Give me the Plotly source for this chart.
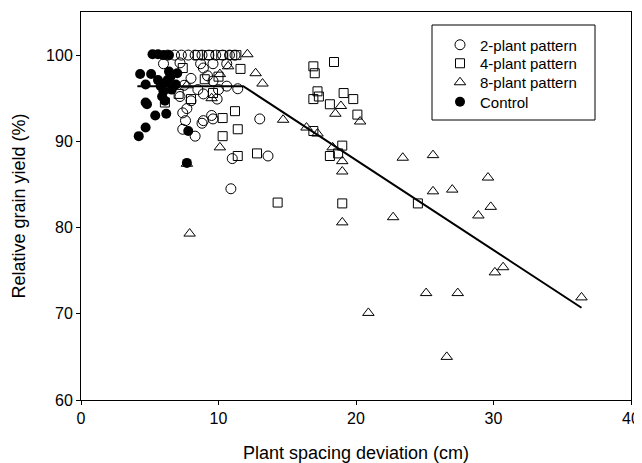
import plotly.graph_objects as go

# ---- data ----
two_x = [6.3, 6.8, 7.3, 7.8, 8.3, 8.8, 9.3, 9.8, 10.3, 10.8, 11.2,
         6.0, 7.2, 8.7, 9.6, 10.6, 8.9, 8.0, 9.2, 10.6, 11.4, 7.2, 8.0, 8.9, 9.9,
         7.4, 7.7, 7.6, 8.3, 8.9, 9.5, 9.6, 11.0, 10.9, 13.0, 13.6, 7.4, 8.8,
         9.6, 10.0, 7.5, 8.5]
two_y = [100, 100, 100, 100, 100, 100, 100, 100, 100, 100, 100,
         99.0, 99.1, 99.0, 99.0, 99.0, 98.5, 97.3, 97.6, 96.4, 96.1, 95.2, 94.7, 95.5, 94.9,
         93.3, 93.8, 92.4, 90.6, 92.4, 93.0, 92.6, 88.0, 84.5, 92.6, 88.3, 91.4, 92.1,
         97.0, 96.0, 96.5, 96.0]

four_x = [8.5, 9.3, 10.2, 11.0, 11.3,
          6.1, 7.1, 8.0, 9.6, 10.3, 11.2, 11.4, 10.3, 11.4, 12.8, 11.6, 7.4, 9.0, 10.0,
          16.9, 18.4, 17.0, 17.2, 17.3, 16.9, 18.1, 19.1, 19.8, 20.1, 16.9, 19.0, 18.1,
          18.7, 14.3, 19.0, 24.5]
four_y = [100, 100, 100, 100, 100,
          94.5, 95.5, 94.9, 95.6, 92.7, 93.5, 91.4, 90.6, 88.3, 88.6, 98.4, 98.5, 97.2, 97.5,
          98.7, 99.2, 97.9, 95.8, 95.2, 94.9, 94.3, 95.6, 94.9, 93.1, 91.2, 89.5, 88.3,
          88.6, 82.9, 82.8, 82.8]

eight_x = [12.1, 12.7, 13.2, 10.1, 10.7, 7.9, 10.1, 7.7, 7.7, 9.5,
           18.9, 18.5, 20.3, 14.7, 16.4, 17.2, 18.3, 19.0, 19.0, 23.4, 25.6, 25.6, 27.0,
           22.7, 19.0, 29.6, 29.8, 28.9, 30.1, 30.7, 25.1, 27.4, 36.4, 26.6, 20.9]
eight_y = [100.1, 97.9, 96.7, 97.8, 98.7, 79.3, 89.3, 87.4, 96.5, 95.0,
           94.1, 93.2, 92.3, 92.5, 91.6, 90.9, 89.3, 87.7, 86.5, 88.1, 88.4, 84.2, 84.4,
           81.2, 80.6, 85.8, 82.4, 81.4, 74.8, 75.4, 72.4, 72.4, 71.9, 65.0, 70.1]

ctrl_x = [5.2, 5.6, 6.0, 6.4, 4.3, 5.1, 4.7, 4.7, 4.8, 5.4, 6.2, 4.7, 4.2, 7.8, 7.7,
          5.8, 6.0, 6.3, 5.9, 6.5, 5.6, 6.1, 6.9, 6.4, 7.0, 6.6, 6.2]
ctrl_y = [100.1, 100.1, 100.0, 100.0, 97.8, 97.8, 96.6, 94.5, 94.3, 93.0, 93.2, 91.6, 90.6,
          91.2, 87.5, 96.4, 95.8, 97.1, 95.2, 97.5, 97.1, 94.7, 96.6, 98.1, 97.9, 96.0, 96.8]

fit_x = [4.1, 11.8, 36.4]
fit_y = [96.4, 96.4, 70.7]

x_ticks = [0, 10, 20, 30, 40]
y_ticks = [60, 70, 80, 90, 100]

FONT = "Liberation Sans, Arial, sans-serif"

fig = go.Figure()

fig.add_trace(go.Scatter(x=fit_x, y=fit_y, mode="lines",
                         line=dict(color="black", width=2), showlegend=False,
                         hoverinfo="skip"))

mk_line = dict(color="black", width=1)
fig.add_trace(go.Scatter(x=two_x, y=two_y, mode="markers", name="2-plant pattern",
                         legend="legend",
                         marker=dict(symbol="circle-open", size=10, color="black", line=mk_line)))
fig.add_trace(go.Scatter(x=four_x, y=four_y, mode="markers", name="4-plant pattern",
                         legend="legend2",
                         marker=dict(symbol="square-open", size=9, color="black", line=mk_line)))
fig.add_trace(go.Scatter(x=eight_x, y=eight_y, mode="markers", name="8-plant pattern",
                         legend="legend3",
                         marker=dict(symbol="triangle-up-open", size=10, color="black", line=mk_line)))
fig.add_trace(go.Scatter(x=ctrl_x, y=ctrl_y, mode="markers", name="Control",
                         legend="legend4",
                         marker=dict(symbol="circle", size=10, color="black")))

XR = [0, 40]
YR = [60, 105]
common = dict(showgrid=False, zeroline=False, automargin=False)

# page has an 8px body margin: figure sits at (8, 8) in the window.
# target plot area in window pixels: x 81..631, y 12..400
OFF = 8
L, R, T, B = 81, 631, 12, 400
W, H = 642 - OFF, 463 - OFF


def py(p):
    return (B - p) / float(B - T)


def px(p):
    return (p - L) / float(R - L)


def leg(yc):
    return dict(x=px(440), y=py(yc), xanchor="left", yanchor="middle",
                bgcolor="rgba(0,0,0,0)", borderwidth=0,
                font=dict(size=15, family=FONT), itemwidth=30)


fig.update_layout(
    width=W, height=H,
    margin=dict(l=L - OFF, r=642 - R, t=T - OFF, b=463 - B, pad=0, autoexpand=False),
    paper_bgcolor="white", plot_bgcolor="white",
    font=dict(family=FONT, color="black", size=15),
    xaxis=dict(range=XR, tickvals=x_ticks, ticks="outside", ticklen=4, tickcolor="black",
               showline=True, linecolor="black", linewidth=1, mirror=True,
               title=dict(text="Plant spacing deviation (cm)", font=dict(size=18), standoff=22),
               tickfont=dict(size=16), **common),
    yaxis=dict(range=YR, tickvals=y_ticks, ticks="outside", ticklen=4, tickcolor="black",
               showline=True, linecolor="black", linewidth=1, mirror=True,
               title=dict(text="Relative grain yield (%)", font=dict(size=18)),
               tickfont=dict(size=16), **common),
    xaxis2=dict(overlaying="x", matches="x", range=XR, side="bottom", anchor="y",
                tickvals=x_ticks, ticks="inside", ticklen=5, tickcolor="black",
                showticklabels=False, showline=False,
                minor=dict(ticks="inside", ticklen=3, dtick=2, tick0=0, tickcolor="black"),
                **common),
    xaxis3=dict(overlaying="x", matches="x", range=XR, side="top", anchor="y",
                tickvals=x_ticks, ticks="inside", ticklen=5, tickcolor="black",
                showticklabels=False, showline=False, **common),
    yaxis2=dict(overlaying="y", matches="y", range=YR, side="left", anchor="x",
                tickvals=y_ticks, ticks="inside", ticklen=5, tickcolor="black",
                showticklabels=False, showline=False,
                minor=dict(ticks="inside", ticklen=3, dtick=2, tick0=60, tickcolor="black"),
                **common),
    yaxis3=dict(overlaying="y", matches="y", range=YR, side="right", anchor="x",
                tickvals=y_ticks, ticks="inside", ticklen=5, tickcolor="black",
                showticklabels=False, showline=False, **common),
    legend=leg(45),
    legend2=leg(63.5),
    legend3=leg(82.5),
    legend4=leg(102),
    shapes=[dict(type="rect", xref="paper", yref="paper",
                 x0=px(432), x1=px(595), y0=py(120), y1=py(25),
                 line=dict(color="black", width=1), fillcolor="rgba(0,0,0,0)")],
)

fig.write_html("out.html")
